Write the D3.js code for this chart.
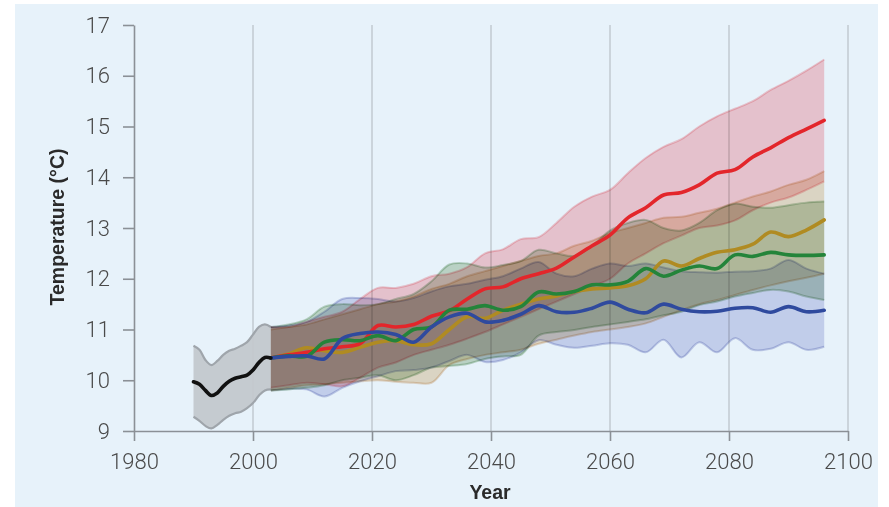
<!DOCTYPE html>
<html>
<head>
<meta charset="utf-8">
<script src="https://cdn.jsdelivr.net/npm/d3@7"></script>
<style>
  html, body { margin: 0; padding: 0; background: #ffffff; }
  .tick text { font-family: Roboto, "Liberation Sans", Arial, sans-serif; font-weight: 300; font-size: 22px; fill: #4a4a4a; }
  .axis-title { font-family: "Liberation Sans", Arial, sans-serif; font-weight: bold; font-size: 19.5px; fill: #2a2a2a; }
</style>
</head>
<body>
<svg class="chart" width="889" height="507"></svg>
<script>
// observed record (black line + grey band)
const histYears = [1990, 1991, 1992, 1993, 1994, 1995, 1996, 1997, 1998, 1999, 2000, 2001, 2002, 2003];
const histMean = [9.97, 9.92, 9.8, 9.7, 9.75, 9.88, 9.98, 10.04, 10.07, 10.1, 10.2, 10.35, 10.45, 10.44];
const histHi = [10.68, 10.6, 10.4, 10.3, 10.38, 10.5, 10.58, 10.62, 10.68, 10.75, 10.9, 11.05, 11.1, 11.05];
const histLo = [9.28, 9.2, 9.1, 9.05, 9.12, 9.22, 9.3, 9.35, 9.38, 9.45, 9.55, 9.7, 9.8, 9.82];

// projections
const scenYears = [2003, 2006, 2009, 2012, 2015, 2018, 2021, 2024, 2027, 2030, 2033, 2036, 2039, 2042, 2045, 2048,
    2051, 2054, 2057, 2060, 2063, 2066, 2069, 2072, 2075, 2078, 2081, 2084, 2087, 2090, 2093, 2096];

const redMean = [10.44, 10.5, 10.55, 10.62, 10.66, 10.72, 11.08, 11.05, 11.1, 11.26, 11.37, 11.6, 11.8, 11.84, 12.0, 12.1,
    12.21, 12.43, 12.65, 12.86, 13.2, 13.4, 13.65, 13.7, 13.85, 14.08, 14.15, 14.4, 14.58, 14.78, 14.95, 15.12];
const redHi = [11.05, 11.05, 11.15, 11.25, 11.35, 11.6, 11.82, 11.82, 11.9, 12.05, 12.1, 12.23, 12.5, 12.58, 12.78, 12.82,
    13.1, 13.42, 13.62, 13.75, 14.08, 14.38, 14.6, 14.75, 15.0, 15.2, 15.35, 15.5, 15.72, 15.9, 16.1, 16.32];
const redLo = [9.85, 9.9, 9.95, 9.92, 9.88, 10.05, 10.25, 10.35, 10.5, 10.6, 10.7, 10.82, 10.95, 11.1, 11.25, 11.4,
    11.55, 11.7, 11.85, 12.0, 12.3, 12.5, 12.7, 12.85, 13.0, 13.05, 13.15, 13.35, 13.5, 13.6, 13.75, 13.92];

const goldMean = [10.44, 10.52, 10.64, 10.58, 10.55, 10.65, 10.75, 10.78, 10.7, 10.72, 11.0, 11.25, 11.22, 11.38, 11.5, 11.6,
    11.66, 11.75, 11.8, 11.82, 11.86, 12.0, 12.35, 12.25, 12.4, 12.52, 12.57, 12.68, 12.92, 12.83, 12.96, 13.16];
const goldHi = [11.0, 11.05, 11.1, 11.2, 11.3, 11.4, 11.5, 11.55, 11.65, 11.8, 11.9, 12.05, 12.15, 12.25, 12.35, 12.45,
    12.5, 12.65, 12.75, 12.9, 13.0, 13.1, 13.2, 13.22, 13.3, 13.38, 13.5, 13.62, 13.72, 13.85, 13.95, 14.12];
const goldLo = [9.8, 9.85, 9.9, 9.92, 9.95, 9.98, 10.0, 9.97, 9.95, 9.95, 10.3, 10.42, 10.5, 10.55, 10.6, 10.72,
    10.8, 10.88, 10.95, 11.0, 11.05, 11.12, 11.25, 11.38, 11.5, 11.58, 11.68, 11.78, 11.87, 11.95, 12.02, 12.1];

const greenMean = [10.44, 10.48, 10.47, 10.75, 10.8, 10.78, 10.88, 10.78, 11.0, 11.05, 11.38, 11.4, 11.47, 11.38, 11.45, 11.74,
    11.7, 11.75, 11.88, 11.88, 11.95, 12.2, 12.05, 12.17, 12.25, 12.2, 12.47, 12.44, 12.52, 12.47, 12.46, 12.47];
const greenHi = [11.05, 11.1, 11.2, 11.45, 11.5, 11.48, 11.5, 11.6, 11.7, 11.95, 12.28, 12.3, 12.22, 12.27, 12.35, 12.57,
    12.5, 12.45, 12.65, 12.95, 13.1, 13.16, 13.0, 12.95, 13.1, 13.35, 13.48, 13.42, 13.4, 13.45, 13.5, 13.52];
const greenLo = [9.8, 9.82, 9.85, 9.9, 10.0, 10.05, 10.1, 10.0, 10.1, 10.25, 10.28, 10.32, 10.42, 10.47, 10.5, 10.88,
    10.95, 10.99, 11.05, 11.1, 11.15, 11.2, 11.28, 11.35, 11.48, 11.55, 11.65, 11.72, 11.78, 11.75, 11.65, 11.58];

const blueMean = [10.44, 10.47, 10.48, 10.42, 10.82, 10.92, 10.95, 10.9, 10.75, 11.05, 11.25, 11.32, 11.15, 11.18, 11.3, 11.47,
    11.35, 11.34, 11.42, 11.54, 11.4, 11.33, 11.5, 11.4, 11.35, 11.36, 11.42, 11.43, 11.34, 11.45, 11.35, 11.38];
const blueHi = [11.05, 11.08, 11.15, 11.35, 11.6, 11.62, 11.6, 11.55, 11.62, 11.75, 11.85, 11.9, 11.98, 12.05, 12.2, 12.33,
    12.1, 12.05, 12.2, 12.3, 12.25, 12.3, 12.22, 12.15, 12.13, 12.12, 12.14, 12.15, 12.2, 12.37, 12.2, 12.1];
const blueLo = [9.8, 9.83, 9.82, 9.68, 9.85, 9.98, 10.08, 10.18, 10.2, 10.25, 10.38, 10.5, 10.36, 10.4, 10.55, 10.79,
    10.7, 10.64, 10.68, 10.73, 10.7, 10.55, 10.8, 10.45, 10.75, 10.55, 10.83, 10.6, 10.62, 10.75, 10.6, 10.66];

const xTicks = [1980, 2000, 2020, 2040, 2060, 2080, 2100];
const yTicks = [9, 10, 11, 12, 13, 14, 15, 16, 17];

// build the series table the drawing code walks over
const series = [
    { name: 'blue', mean: blueMean, lo: blueLo, hi: blueHi, line: '#2f4a9e', fill: 'rgb(125,135,205)', edge: 'rgb(110,120,190)' },
    { name: 'green', mean: greenMean, lo: greenLo, hi: greenHi, line: '#24843a', fill: 'rgb(95,150,85)', edge: 'rgb(90,145,90)' },
    { name: 'gold', mean: goldMean, lo: goldLo, hi: goldHi, line: '#b08b22', fill: 'rgb(210,160,80)', edge: 'rgb(210,150,90)' },
    { name: 'red', mean: redMean, lo: redLo, hi: redHi, line: '#e3262b', fill: 'rgb(245,95,110)', edge: 'rgb(240,110,120)' }
];

const svg = d3.select('.chart');

// light blue panel behind everything
svg.append('rect')
    .attr('x', 15).attr('y', 4)
    .attr('width', 863).attr('height', 503)
    .attr('fill', '#e7f2fa');

const x = d3.scaleLinear().domain([1980, 2100]).range([134, 848]);
const y = d3.scaleLinear().domain([9, 17]).range([431, 25]);

// vertical grid lines
svg.append('g')
    .selectAll('line')
    .data(xTicks.slice(1))
    .join('line')
    .attr('x1', d => x(d)).attr('x2', d => x(d))
    .attr('y1', y(17)).attr('y2', y(9))
    .attr('stroke', '#b9c0c6')
    .attr('stroke-width', 1.2);

// historic grey band
const histData = histYears.map((yr, i) => ({ yr, m: histMean[i], lo: histLo[i], hi: histHi[i] }));
svg.append('path')
    .datum(histData)
    .attr('d', d3.area().x(d => x(d.yr)).y0(d => y(d.lo)).y1(d => y(d.hi)).curve(d3.curveCatmullRom))
    .attr('fill', '#c3c8cd')
    .attr('fill-opacity', 0.95);
['hi', 'lo'].forEach(k => {
    svg.append('path')
        .datum(histData)
        .attr('d', d3.line().x(d => x(d.yr)).y(d => y(d[k])).curve(d3.curveCatmullRom))
        .attr('fill', 'none')
        .attr('stroke', '#9fa5ab')
        .attr('stroke-width', 2.2);
});

// scenario bands, multiplied so overlaps darken
const bands = svg.append('g');
series.forEach(s => {
    const rows = scenYears.map((yr, i) => ({ yr, lo: s.lo[i], hi: s.hi[i] }));
    bands.append('path')
        .datum(rows)
        .attr('d', d3.area().x(d => x(d.yr)).y0(d => y(d.lo)).y1(d => y(d.hi)).curve(d3.curveCatmullRom))
        .attr('fill', s.fill)
        .attr('fill-opacity', 0.32)
        .style('mix-blend-mode', 'multiply');
    ['hi', 'lo'].forEach(k => {
        bands.append('path')
            .datum(rows)
            .attr('d', d3.line().x(d => x(d.yr)).y(d => y(d[k])).curve(d3.curveCatmullRom))
            .attr('fill', 'none')
            .attr('stroke', s.edge)
            .attr('stroke-opacity', 0.35)
            .attr('stroke-width', 2)
            .style('mix-blend-mode', 'multiply');
    });
});

// mean lines
const lineOrder = ['gold', 'red', 'green', 'blue'];
lineOrder.forEach(name => {
    const s = series.find(d => d.name === name);
    svg.append('path')
        .datum(scenYears.map((yr, i) => ({ yr, v: s.mean[i] })))
        .attr('d', d3.line().x(d => x(d.yr)).y(d => y(d.v)).curve(d3.curveCatmullRom))
        .attr('fill', 'none')
        .attr('stroke', s.line)
        .attr('stroke-width', 3.6)
        .attr('stroke-linecap', 'round');
});

svg.append('path')
    .datum(histData)
    .attr('d', d3.line().x(d => x(d.yr)).y(d => y(d.m)).curve(d3.curveCatmullRom))
    .attr('fill', 'none')
    .attr('stroke', '#111')
    .attr('stroke-width', 3.6)
    .attr('stroke-linecap', 'round');

// axes
const xAxis = svg.append('g')
    .attr('transform', `translate(0,${y(9)})`)
    .call(d3.axisBottom(x).tickValues(xTicks).tickFormat(d3.format('d')).tickSize(10).tickSizeOuter(0).tickPadding(12));
const yAxis = svg.append('g')
    .attr('transform', `translate(${x(1980)},0)`)
    .call(d3.axisLeft(y).tickValues(yTicks).tickSize(11).tickSizeOuter(0).tickPadding(13));

[xAxis, yAxis].forEach(g => {
    g.select('.domain').attr('stroke', '#8b9096').attr('stroke-width', 1.6);
    g.selectAll('.tick line').attr('stroke', '#8b9096').attr('stroke-width', 1.6);
});

// axis titles
svg.append('text')
    .attr('class', 'axis-title')
    .attr('x', 490).attr('y', 499)
    .attr('text-anchor', 'middle')
    .text('Year');

svg.append('text')
    .attr('class', 'axis-title')
    .attr('transform', 'translate(64,227) rotate(-90)')
    .attr('text-anchor', 'middle')
    .text('Temperature (°C)');
</script>
</body>
</html>
